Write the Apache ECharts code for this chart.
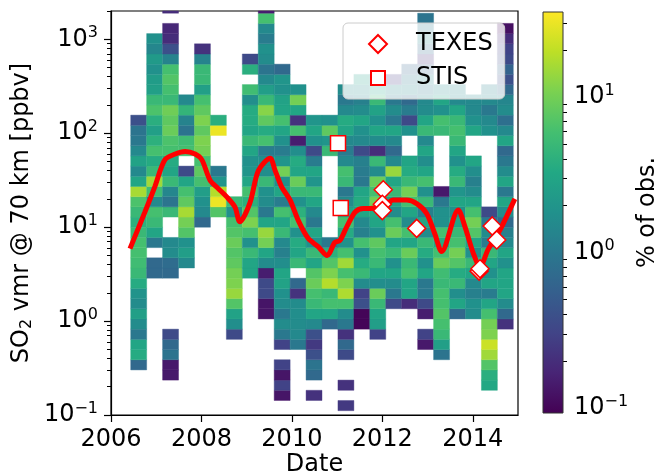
<!DOCTYPE html>
<html>
<head>
<meta charset="utf-8">
<script src="https://cdn.jsdelivr.net/npm/echarts@6/dist/echarts.min.js"></script>
<style>
html, body { margin: 0; padding: 0; background: #fff; }
#chart { width: 659px; height: 476px; }
</style>
</head>
<body>
<div id="chart"></div>
<script>
// 2D histogram bins: x in years, y in log10(ppbv)
var binX0 = 2006.436, binDX = 0.3525;
var binLog0 = -0.954, binDLog = 0.1085;

// first (lowest) filled row of each time column
var colStartRow = [4, 13, 3, 14, 18, 19, 7, 13, 9, 1, 6, 1, 8, 0, 8, 7, 10, 10, 6, 5, 9, 9, 2, 8];
// % of obs. per cell, bottom row upward (0 = empty)
var colValues = [
  [0.7, 3.5, 3, 1.0, 1.6, 2.6, 1.6, 1.9, 3.5, 5, 5.5, 6, 6, 5, 4, 5, 6.5, 16, 3, 1.5, 2.8, 1.5, 1.0, 0.9, 0.4],
  [0.7, 0.7, 0, 1.0, 3, 5, 6, 1.5, 5.5, 15, 5, 3.5, 6, 4, 2.6, 3.8, 6.5, 5, 2.6, 2.4, 1.8, 2.3, 1.4, 1.8],
  [0.14, 0.14, 0.9, 0.7, 0.35, 0, 0, 0, 0, 0, 0.7, 0.75, 1.6, 1.5, 0, 0, 5, 0.9, 1.4, 5, 3, 3.5, 6, 6.5, 9, 8, 9.5, 5, 6, 7, 6, 1.3, 0.4, 0.2, 0.18, 0, 0.2],
  [1.5, 2.5, 1.8, 7, 10, 16, 8, 6, 3, 0.35, 0, 6, 5.5, 0.9, 1.3, 4.5, 1.5],
  [0.7, 1.5, 1.8, 2.5, 6, 8, 6, 10, 11, 8, 11, 8, 6, 2.6, 5, 5, 1.3, 0.22],
  [7, 30, 18, 2, 1.0, 0, 0, 0, 30, 3.8],
  [0.35, 1.7, 2.8, 7, 14, 11, 10, 8, 7, 9, 7, 6, 1.8, 5],
  [3, 3, 5, 1.8, 6, 11, 7, 4, 6, 3, 2, 1.8, 3, 5, 3, 3.5, 3.5, 1.7, 5.5, 0, 3.8, 0.35],
  [0.13, 0.13, 0.35, 0.35, 0.15, 1.6, 3, 10, 14, 3, 1.0, 1.6, 1.8, 5, 1.7, 1.7, 1.1, 6, 3.5, 8, 12, 5, 2.5, 1.5, 0.9, 1.6, 1.8, 1.1, 1.5, 6, 0.15],
  [0.13, 0.3, 0.13, 0.3, 0, 0.3, 1.0, 1.6, 1.0, 1.6, 1.8, 2.8, 3, 1.7, 1.2, 1.5, 5, 3, 6, 1.1, 3, 1.8, 10, 2, 1.1, 1.8, 3, 6, 3, 2.8, 1.8, 2, 0.7],
  [1.0, 1.5, 1.6, 1.7, 1.6, 0.22, 0.7, 0, 5, 3, 3.5, 1.8, 6, 4, 1.8, 5, 9, 3, 3.5, 1.7, 0.15, 6, 0.22, 3, 10, 1.8],
  [0.22, 0, 0.7, 0.9, 0.4, 0.25, 0.4, 1.5, 3, 5, 6, 9, 7, 3, 5, 1.8, 3, 1.0, 1.5, 3, 5, 2, 3, 1.1, 0.35, 1.8, 3, 2],
  [0.7, 3, 6, 5, 18, 11, 7, 4, 1.0, 0, 0, 0, 0, 0, 0, 0, 0, 5, 2, 8, 1.8],
  [0.25, 0, 0.22, 0, 0, 0.35, 0.7, 0.22, 1.0, 1.6, 6, 17, 11, 6, 15, 6, 1.8, 3.5, 6, 3, 1.6, 1.0, 5, 6, 1.5, 1.1, 1.5, 3, 3.5, 1.5, 1.0, 1.6],
  [0.1, 0.1, 0.4, 0.3, 1.6, 5, 3.5, 1.8, 6, 1.2, 1.5, 3, 3.5, 3, 1.0, 1.1, 1.2, 0.35, 1.5, 1.8, 3, 1.6, 1.2, 1.6, 2.5],
  [0.3, 2.5, 3, 5, 9, 1.7, 3, 5, 6, 8, 1.8, 3, 3.5, 10, 6, 9, 1.6, 5, 0.2, 1.6, 3, 1.8, 2.8, 5, 3, 1.5],
  [0.35, 1.0, 1.6, 3, 1.8, 5, 3, 9, 6, 1.6, 2.8, 5, 3, 14, 1.5, 0.7, 1.5, 3, 1.0, 1.6, 1.0, 1.5, 0.25],
  [0.2, 3, 3, 6, 5, 9, 3, 6, 1.6, 3, 6, 10, 5, 3.5, 3, 0, 0, 1.8, 0.35, 1.1, 0.7, 1.5, 1.0, 0.6],
  [0.14, 0.3, 0, 0.15, 0.35, 1.0, 1.0, 3, 1.8, 3.5, 5, 1.6, 3, 1.2, 5, 1.8, 6, 3, 1.7, 3, 1.5, 5, 3, 1.6, 1.5, 1.0, 1.5, 0.6, 0.22, 0.7, 1.4, 1.0, 0.9],
  [0.9, 2.6, 5, 6, 7, 6, 6, 5, 5.5, 9, 6, 3.5, 6, 1.8, 1.8, 1.0, 0.14, 0, 0, 0, 0, 0, 5, 6, 1.8, 3, 1.6],
  [0.7, 3, 1.7, 5, 3.5, 7, 10, 6, 5, 3, 1.8, 3, 2, 5, 3.5, 1.8, 3, 5, 6, 5, 3, 1.5, 1.5],
  [1.6, 1.8, 1.2, 1.5, 3, 5, 1.8, 3, 7, 10, 6, 3, 1.6, 1.2, 1.7, 3, 0, 0, 3, 1.8, 1.5, 1.5],
  [3.2, 3.8, 7, 15, 22, 11, 10, 6, 3, 1.1, 3, 1.8, 3, 5, 1.1, 1.6, 1.0, 0.35, 0, 0, 0, 0, 0, 0, 0, 1.8, 1.5, 1.0, 1.5, 1.2],
  [0.22, 0.7, 1.6, 3, 3, 3, 1.8, 3, 1.5, 1.2, 0.7, 1.6, 3, 1.0, 3, 1.6, 1.0, 0.7, 3, 1.5, 0.8, 1.6, 1.4, 0.7, 0.4, 0.6, 0.35, 0.3, 0.2, 0.12]
];

// running mean (red curve)
var lineYears = [2006.42, 2006.75, 2006.97, 2007.19, 2007.42, 2007.64, 2007.86, 2008.01, 2008.19, 2008.37, 2008.56, 2008.74, 2008.85,
  2009.07, 2009.26, 2009.52, 2009.63, 2009.77, 2009.96, 2010.14, 2010.36, 2010.58, 2010.78, 2010.95, 2011.06, 2011.21, 2011.40,
  2011.58, 2011.73, 2012.06, 2012.24, 2012.54, 2012.76, 2012.98, 2013.16, 2013.31, 2013.68, 2013.83, 2014.01, 2014.16,
  2014.34, 2014.60, 2014.93];
var lineVmr = [5.9, 14.5, 27, 52, 60, 64, 60, 52, 31.6, 25.8, 21, 16.4, 11.4,
  18, 40, 54, 40, 27, 19.4, 11.8, 7.6, 6.2, 5.0, 6.9, 7.2, 10, 14.5,
  15.8, 15.8, 17, 19.4, 19.4, 17.8, 14, 8.5, 5.5, 15.2, 10, 5.3, 3.8,
  5.8, 9.3, 20];

var texesYears = [2012.02, 2012.0, 2012.0, 2012.76, 2014.14, 2014.16, 2014.43, 2014.53];
var texesVmr = [25, 17.5, 15, 9.7, 3.4, 3.6, 10.3, 7.3];
var stisYears = [2011.02, 2011.08];
var stisVmr = [78, 16];

var xTicks = [2006, 2008, 2010, 2012, 2014];
var yTicks = [0.1, 1, 10, 100, 1000];
var cbTicks = [0.1, 1, 10];
var cbMin = 0.093, cbMax = 35.2;
var yMin = 0.1, yMax = 2000;

var FONT = 'DejaVu Sans';
var FS = 24;
var viridisStops = ['#440154', '#482475', '#414487', '#355f8d', '#2a788e', '#21918c',
  '#22a884', '#44bf70', '#7ad151', '#bddf26', '#fde725'];

function hexRgb(h) {
  return [parseInt(h.substr(1, 2), 16), parseInt(h.substr(3, 2), 16), parseInt(h.substr(5, 2), 16)];
}
function viridis(v) {
  var t = (Math.log10(v) - Math.log10(cbMin)) / (Math.log10(cbMax) - Math.log10(cbMin));
  t = Math.max(0, Math.min(1, t)) * (viridisStops.length - 1);
  var i = Math.min(Math.floor(t), viridisStops.length - 2), f = t - i;
  var a = hexRgb(viridisStops[i]), b = hexRgb(viridisStops[i + 1]);
  return 'rgb(' + [0, 1, 2].map(function (k) { return Math.round(a[k] + (b[k] - a[k]) * f); }).join(',') + ')';
}

function minorTicks(lo, hi) {
  var out = [];
  for (var e = -2; e <= 4; e++) {
    for (var m = 2; m <= 9; m++) {
      var v = m * Math.pow(10, e);
      if (v >= lo && v <= hi) out.push(v);
    }
  }
  return out;
}

function pow10Label(v) {
  var e = Math.round(Math.log10(v));
  return '10{sup|' + (e < 0 ? '\u2212' + (-e) : e) + '}';
}

var cells = [];
colValues.forEach(function (vals, c) {
  vals.forEach(function (v, k) {
    if (v > 0) {
      var r = colStartRow[c] + k;
      cells.push([binX0 + c * binDX, Math.pow(10, binLog0 + r * binDLog),
        binX0 + (c + 1) * binDX, Math.min(yMax, Math.pow(10, binLog0 + (r + 1) * binDLog)), v]);
    }
  });
});

function zip(a, b) { return a.map(function (x, i) { return [x, b[i]]; }); }

var labelStyle = { fontFamily: FONT, fontSize: FS, color: '#000',
  rich: { sup: { fontFamily: FONT, fontSize: 16, color: '#000', padding: [0, 0, 13, 0] } } };

var chart = echarts.init(document.getElementById('chart'));
chart.setOption({
  animation: false,
  backgroundColor: '#fff',
  grid: [
    { left: 111, top: 11, width: 407, height: 404, outerBoundsMode: 'none', containLabel: false,
      show: true, borderColor: '#000', borderWidth: 1.2, backgroundColor: 'transparent' },
    { left: 543, top: 12, width: 20, height: 401, outerBoundsMode: 'none', containLabel: false }
  ],
  xAxis: [
    { type: 'value', gridIndex: 0, min: 2006, max: 2015,
      name: 'Date', nameLocation: 'middle', nameGap: 38, nameMoveOverlap: false,
      nameTextStyle: { fontFamily: FONT, fontSize: FS, color: '#000' },
      axisLine: { lineStyle: { color: '#000', width: 1.2 } },
      axisTick: { customValues: xTicks, length: 7, lineStyle: { color: '#000', width: 1.2 } },
      axisLabel: { customValues: xTicks, margin: 13, fontFamily: FONT, fontSize: FS, color: '#000',
        formatter: function (v) { return String(v); } },
      splitLine: { show: false } },
    { type: 'value', gridIndex: 1, min: 0, max: 1, show: false }
  ],
  yAxis: [
    { type: 'log', gridIndex: 0, min: yMin, max: yMax, logBase: 10, position: 'left',
      name: 'SO{sub|2} vmr @ 70 km [ppbv]', nameLocation: 'middle', nameGap: 76, nameRotate: 90,
      nameMoveOverlap: false,
      nameTextStyle: { fontFamily: FONT, fontSize: FS, color: '#000',
        rich: { sub: { fontFamily: FONT, fontSize: 16, color: '#000', padding: [11, 0, 0, 0] } } },
      axisLine: { show: true, lineStyle: { color: '#000', width: 1.2 } },
      axisTick: { customValues: yTicks, length: 7, lineStyle: { color: '#000', width: 1.2 } },
      axisLabel: Object.assign({ customValues: yTicks, margin: 13, formatter: pow10Label }, labelStyle),
      splitLine: { show: false } },
    { type: 'log', gridIndex: 0, min: yMin, max: yMax, logBase: 10, position: 'left', offset: 0,
      axisLine: { show: false },
      axisTick: { customValues: minorTicks(yMin, yMax), length: 4, lineStyle: { color: '#000', width: 1 } },
      axisLabel: { show: false }, splitLine: { show: false } },
    { type: 'log', gridIndex: 1, min: cbMin, max: cbMax, logBase: 10, position: 'right',
      name: '% of obs.', nameLocation: 'middle', nameGap: 73, nameRotate: 90, nameMoveOverlap: false,
      nameTextStyle: { fontFamily: FONT, fontSize: FS, color: '#000' },
      axisLine: { show: false },
      axisTick: { customValues: cbTicks, length: 7, lineStyle: { color: '#000', width: 1.2 } },
      axisLabel: Object.assign({ customValues: cbTicks, margin: 11, formatter: pow10Label }, labelStyle),
      splitLine: { show: false } },
    { type: 'log', gridIndex: 1, min: cbMin, max: cbMax, logBase: 10, position: 'right', offset: 0,
      axisLine: { show: false },
      axisTick: { customValues: minorTicks(cbMin, cbMax), length: 4, lineStyle: { color: '#000', width: 1 } },
      axisLabel: { show: false }, splitLine: { show: false } }
  ],
  legend: {
    data: [{ name: 'TEXES' }, { name: 'STIS', icon: 'path://M0,0M18,18M2,2L16,2L16,16L2,16Z' }],
    orient: 'vertical', left: 343, top: 23,
    itemWidth: 18, itemHeight: 18, itemGap: 10, padding: [9, 12, 9, 25],
    backgroundColor: 'rgba(255,255,255,0.8)', borderColor: '#cccccc', borderWidth: 1, borderRadius: 5,
    textStyle: { fontFamily: FONT, fontSize: FS, color: '#000', padding: [0, 0, 0, 24] }
  },
  series: [
    { type: 'custom', xAxisIndex: 0, yAxisIndex: 0, z: 1,
      encode: { x: [0, 2], y: [1, 3] },
      data: cells,
      renderItem: function (params, api) {
        var p0 = api.coord([api.value(0), api.value(1)]);
        var p1 = api.coord([api.value(2), api.value(3)]);
        var col = viridis(api.value(4));
        return { type: 'rect',
          shape: { x: p0[0], y: p1[1], width: p1[0] - p0[0], height: p0[1] - p1[1] },
          style: { fill: col, stroke: col, lineWidth: 0.4 } };
      } },
    { type: 'custom', xAxisIndex: 1, yAxisIndex: 2, z: 1, silent: true,
      encode: { x: [0, 2], y: [1, 3] },
      data: [[0, cbMin, 1, cbMax]],
      renderItem: function (params, api) {
        var p0 = api.coord([api.value(0), api.value(1)]);
        var p1 = api.coord([api.value(2), api.value(3)]);
        return { type: 'rect',
          shape: { x: p0[0], y: p1[1], width: p1[0] - p0[0], height: p0[1] - p1[1] },
          style: { stroke: '#333', lineWidth: 1,
            fill: new echarts.graphic.LinearGradient(0, 1, 0, 0, viridisStops.map(function (c, i) {
              return { offset: i / (viridisStops.length - 1), color: c };
            })) } };
      } },
    { name: 'mean', type: 'line', xAxisIndex: 0, yAxisIndex: 0, z: 3,
      data: zip(lineYears, lineVmr), showSymbol: false, smooth: 0.3,
      lineStyle: { color: '#ff0000', width: 5 } },
    { name: 'TEXES', type: 'scatter', xAxisIndex: 0, yAxisIndex: 0, z: 5,
      symbol: 'diamond', symbolSize: 18, data: zip(texesYears, texesVmr),
      itemStyle: { color: '#ffffff', borderColor: '#ff0000', borderWidth: 1.5, opacity: 1 } },
    { name: 'STIS', type: 'scatter', xAxisIndex: 0, yAxisIndex: 0, z: 5,
      symbol: 'rect', symbolSize: 15, data: zip(stisYears, stisVmr),
      itemStyle: { color: '#ffffff', borderColor: '#ff0000', borderWidth: 1.5, opacity: 1 } }
  ]
});
</script>
</body>
</html>
